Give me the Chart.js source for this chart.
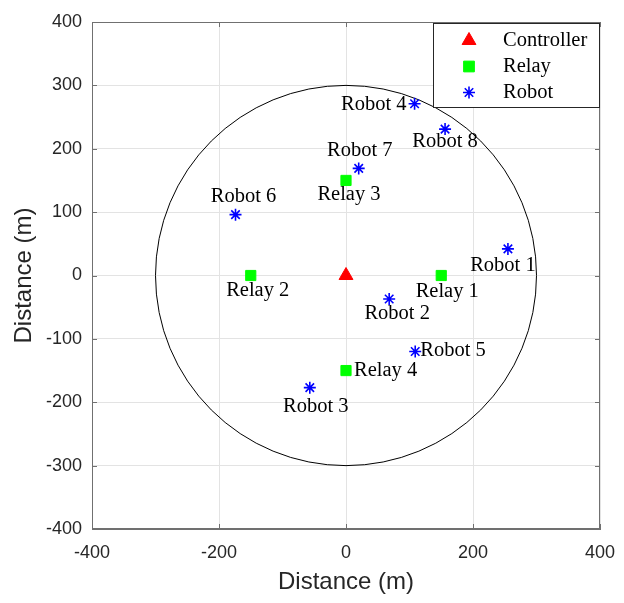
<!DOCTYPE html>
<html>
<head>
<meta charset="utf-8">
<script src="https://cdn.jsdelivr.net/npm/chart.js@4.4.1/dist/chart.umd.min.js"></script>
<style>
  html, body { margin: 0; padding: 0; background: #ffffff; }
  #wrap { width: 624px; height: 603px; }
</style>
</head>
<body>
<div id="wrap"><canvas id="c" width="624" height="603"></canvas></div>
<script>
// ---- data ----
const controllerX = [0];
const controllerY = [0];
const relayNames = ['Relay 1', 'Relay 2', 'Relay 3', 'Relay 4'];
const relayX = [150, -150, 0, 0];
const relayY = [0, 0, 150, -150];
const robotNames = ['Robot 1', 'Robot 2', 'Robot 3', 'Robot 4', 'Robot 5', 'Robot 6', 'Robot 7', 'Robot 8'];
const robotX = [255, 68, -57, 108, 109, -174, 20, 156];
const robotY = [42, -37, -177, 271, -120, 96, 169, 231];
const coverageRadius = 300;
const legendLabels = ['Controller', 'Relay', 'Robot'];
const xTickValues = [-400, -200, 0, 200, 400];
const yTickValues = [-400, -300, -200, -100, 0, 100, 200, 300, 400];
const axisTitle = 'Distance (m)';

// ---- label placement (style, pixel offsets from the marker) ----
const relayLabelStyle = [
  { dx: 6, dy: 16, align: 'center' },
  { dx: 7, dy: 15, align: 'center' },
  { dx: 3, dy: 14, align: 'center' },
  { dx: 8, dy: 0, align: 'left' }
];
const robotLabelStyle = [
  { dx: -5, dy: 17, align: 'center' },
  { dx: 8, dy: 15, align: 'center' },
  { dx: 6, dy: 19, align: 'center' },
  { dx: -8, dy: 1, align: 'right' },
  { dx: 5, dy: -1, align: 'left' },
  { dx: 8, dy: -18, align: 'center' },
  { dx: 1, dy: -18, align: 'center' },
  { dx: 0, dy: 13, align: 'center' }
];

const toPts = (xs, ys) => xs.map((x, i) => ({ x: x, y: ys[i] }));

const AXIS_COLOR = '#707070';
const TEXT_COLOR = '#262626';
const GRID_COLOR = '#e3e3e3';
const SERIF = '"Liberation Serif", "Times New Roman", serif';
const SANS = '"Liberation Sans", Arial, Helvetica, sans-serif';

const decorPlugin = {
  id: 'decor',
  beforeDatasetsDraw(chart) {
    const ctx = chart.ctx;
    const xs = chart.scales.x, ys = chart.scales.y;
    const a = chart.chartArea;
    ctx.save();
    ctx.strokeStyle = AXIS_COLOR;
    ctx.lineWidth = 1;
    ctx.strokeRect(a.left + 0.5, a.top + 0.5, a.right - a.left - 1, a.bottom - a.top - 1);
    const tl = 5;
    ctx.beginPath();
    xTickValues.forEach(v => {
      const px = Math.round(xs.getPixelForValue(v)) + 0.5;
      ctx.moveTo(px, a.bottom); ctx.lineTo(px, a.bottom - tl);
      ctx.moveTo(px, a.top); ctx.lineTo(px, a.top + tl);
    });
    yTickValues.forEach(v => {
      const py = Math.round(ys.getPixelForValue(v)) + 0.5;
      ctx.moveTo(a.left, py); ctx.lineTo(a.left + tl, py);
      ctx.moveTo(a.right, py); ctx.lineTo(a.right - tl, py);
    });
    ctx.stroke();
    // coverage circle
    const cx = xs.getPixelForValue(0), cy = ys.getPixelForValue(0);
    const rx = xs.getPixelForValue(coverageRadius) - cx;
    const ry = cy - ys.getPixelForValue(coverageRadius);
    ctx.beginPath();
    ctx.ellipse(cx, cy, rx, ry, 0, 0, Math.PI * 2);
    ctx.strokeStyle = '#000000';
    ctx.lineWidth = 1;
    ctx.stroke();
    ctx.restore();
  },
  afterDraw(chart) {
    const ctx = chart.ctx;
    const xs = chart.scales.x, ys = chart.scales.y;
    const a = chart.chartArea;
    ctx.save();
    // point labels
    ctx.font = '20.5px ' + SERIF;
    ctx.fillStyle = '#000000';
    ctx.textBaseline = 'middle';
    const drawLabels = (names, xv, yv, st) => {
      names.forEach((n, i) => {
        const px = xs.getPixelForValue(xv[i]) + st[i].dx;
        const py = ys.getPixelForValue(yv[i]) + st[i].dy;
        ctx.textAlign = st[i].align;
        ctx.fillText(n, px, py);
      });
    };
    drawLabels(relayNames, relayX, relayY, relayLabelStyle);
    drawLabels(robotNames, robotX, robotY, robotLabelStyle);

    // axis titles
    ctx.fillStyle = TEXT_COLOR;
    ctx.font = '24px ' + SANS;
    ctx.textAlign = 'center';
    ctx.textBaseline = 'middle';
    ctx.fillText(axisTitle, (a.left + a.right) / 2, 582);
    ctx.save();
    ctx.translate(24, (a.top + a.bottom) / 2);
    ctx.rotate(-Math.PI / 2);
    ctx.fillText(axisTitle, 0, 0);
    ctx.restore();

    // legend box
    const lx = 433.5, ly = a.top + 1.5, lw = a.right - 434, lh = 84;
    ctx.fillStyle = '#ffffff';
    ctx.fillRect(lx, ly, lw, lh);
    ctx.strokeStyle = '#262626';
    ctx.lineWidth = 1;
    ctx.strokeRect(lx, ly, lw, lh);
    const rows = [ly + 17, ly + 43, ly + 69];
    chart.data.datasets.forEach((d, i) => {
      ctx.save();
      ctx.fillStyle = d.backgroundColor;
      ctx.strokeStyle = d.borderColor;
      ctx.lineWidth = d.borderWidth;
      Chart.helpers.drawPoint(ctx, {
        pointStyle: d.pointStyle,
        radius: d.legendRadius,
        borderWidth: d.borderWidth,
        rotation: 0
      }, 469, rows[i]);
      ctx.restore();
    });
    ctx.font = '20.5px ' + SERIF;
    ctx.fillStyle = '#000000';
    ctx.textAlign = 'left';
    ctx.textBaseline = 'middle';
    legendLabels.forEach((t, i) => ctx.fillText(t, 503, rows[i]));
    ctx.restore();
  }
};

new Chart(document.getElementById('c'), {
  type: 'scatter',
  data: {
    datasets: [
      {
        label: legendLabels[0],
        data: toPts(controllerX, controllerY),
        pointStyle: 'triangle',
        pointRadius: 8,
        legendRadius: 8,
        backgroundColor: '#ff0000',
        borderColor: '#ff0000',
        borderWidth: 1
      },
      {
        label: legendLabels[1],
        data: toPts(relayX, relayY),
        pointStyle: 'rect',
        pointRadius: 7.2,
        legendRadius: 7.6,
        backgroundColor: '#00ff00',
        borderColor: '#00ff00',
        borderWidth: 1
      },
      {
        label: legendLabels[2],
        data: toPts(robotX, robotY),
        pointStyle: 'star',
        pointRadius: 6,
        legendRadius: 6,
        backgroundColor: '#0000ff',
        borderColor: '#0000ff',
        borderWidth: 1.6
      }
    ]
  },
  options: {
    responsive: false,
    animation: false,
    devicePixelRatio: 1,
    layout: { padding: { left: 0, right: 24, top: 22, bottom: 0 } },
    plugins: {
      legend: { display: false },
      tooltip: { enabled: false }
    },
    elements: { point: { hoverRadius: 8 } },
    scales: {
      x: {
        type: 'linear',
        min: -400, max: 400,
        afterBuildTicks(s) { s.ticks = xTickValues.map(v => ({ value: v })); },
        afterFit(s) { s.height = 74; s.paddingLeft = 0; s.paddingRight = 0; },
        ticks: {
          padding: 13,
          color: TEXT_COLOR,
          font: { family: SANS, size: 18 },
          maxRotation: 0,
          callback: v => String(v)
        },
        grid: { color: GRID_COLOR, drawTicks: false, lineWidth: 1 },
        border: { display: true, color: AXIS_COLOR, width: 1 }
      },
      y: {
        type: 'linear',
        min: -400, max: 400,
        afterBuildTicks(s) { s.ticks = yTickValues.map(v => ({ value: v })); },
        afterFit(s) { s.width = 92; s.paddingTop = 0; s.paddingBottom = 0; },
        ticks: {
          padding: 10,
          color: TEXT_COLOR,
          font: { family: SANS, size: 18 },
          callback: v => String(v)
        },
        grid: { color: GRID_COLOR, drawTicks: false, lineWidth: 1 },
        border: { display: true, color: AXIS_COLOR, width: 1 }
      }
    }
  },
  plugins: [decorPlugin]
});
</script>
</body>
</html>
